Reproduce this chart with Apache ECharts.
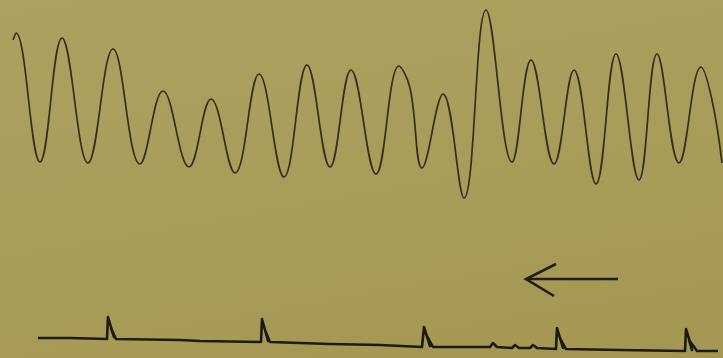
<!DOCTYPE html>
<html>
<head>
<meta charset="utf-8">
<script src="https://cdn.jsdelivr.net/npm/echarts@6/dist/echarts.min.js"></script>
<style>
  html, body { margin: 0; padding: 0; }
  #chart {
    width: 723px;
    height: 358px;
    background: linear-gradient(170deg, #ada160 0%, #a89c59 55%, #a39752 100%);
  }
</style>
</head>
<body>
<div id="chart"></div>
<script>
// upper trace: horizontal position vs pen deflection
const upperX = [13, 16, 40, 62, 88, 113, 140, 163, 189, 211, 235, 259, 284, 307, 330, 351,
  376, 399, 410, 422, 443, 464, 486, 512, 531, 554, 574, 596, 616, 639, 657, 679, 701, 712, 722]
const upperY = [40, 33, 162, 38, 163, 49, 164, 91, 167, 99, 173, 74, 177, 65, 167, 70,
  174, 66, 88, 168, 94, 198, 10, 162, 60, 164, 70, 184, 54, 180, 54, 163, 67, 100, 163]

// lower trace: baseline with time marks (each mark: up, across, down, back in, down)
const lowerX = [38, 70, 107, 108, 110, 114, 111, 116, 180, 200,
  261, 262, 264, 268, 265, 270, 330, 380,
  422, 424, 426, 430, 427, 433, 480, 490, 493, 497, 512, 515, 519, 530, 533, 537,
  556, 557, 559, 563, 560, 566, 620,
  685, 686, 688, 690, 692, 689, 697, 718]
const lowerY = [338, 338, 339, 317, 317, 337, 328, 339, 340, 341,
  342, 319, 319, 341, 330, 342, 344, 345,
  347, 327, 327, 346, 336, 347, 347, 347, 343, 347, 348, 345, 348, 348, 345, 348,
  349, 328, 328, 348, 338, 349, 350,
  351, 329, 330, 342, 350, 340, 351, 351]

// direction arrow
const arrowShaftX = [526, 618]
const arrowShaftY = [279, 279]
const arrowHeadX = [556, 526, 554]
const arrowHeadY = [264, 279, 296]

const zip = (xs, ys) => xs.map((x, i) => [x, ys[i]])

const chart = echarts.init(document.getElementById('chart'), null, { renderer: 'canvas' })

chart.setOption({
  backgroundColor: 'transparent',
  animation: false,
  grid: { left: 0, right: 0, top: 0, bottom: 0 },
  xAxis: { type: 'value', min: 0, max: 723, show: false },
  yAxis: { type: 'value', min: 0, max: 358, inverse: true, show: false },
  series: [
    {
      name: 'upper',
      type: 'line',
      data: zip(upperX, upperY),
      smooth: 0.4,
      symbol: 'none',
      lineStyle: { color: '#362e1d', width: 1.7 },
    },
    {
      name: 'lower',
      type: 'line',
      data: zip(lowerX, lowerY),
      symbol: 'none',
      lineStyle: { color: '#1f1a0f', width: 2.6, join: 'round' },
    },
    {
      name: 'arrowShaft',
      type: 'line',
      data: zip(arrowShaftX, arrowShaftY),
      symbol: 'none',
      lineStyle: { color: '#221d12', width: 2.6 },
    },
    {
      name: 'arrowHead',
      type: 'line',
      data: zip(arrowHeadX, arrowHeadY),
      symbol: 'none',
      lineStyle: { color: '#221d12', width: 2.6, join: 'miter' },
    },
  ],
})
</script>
</body>
</html>
